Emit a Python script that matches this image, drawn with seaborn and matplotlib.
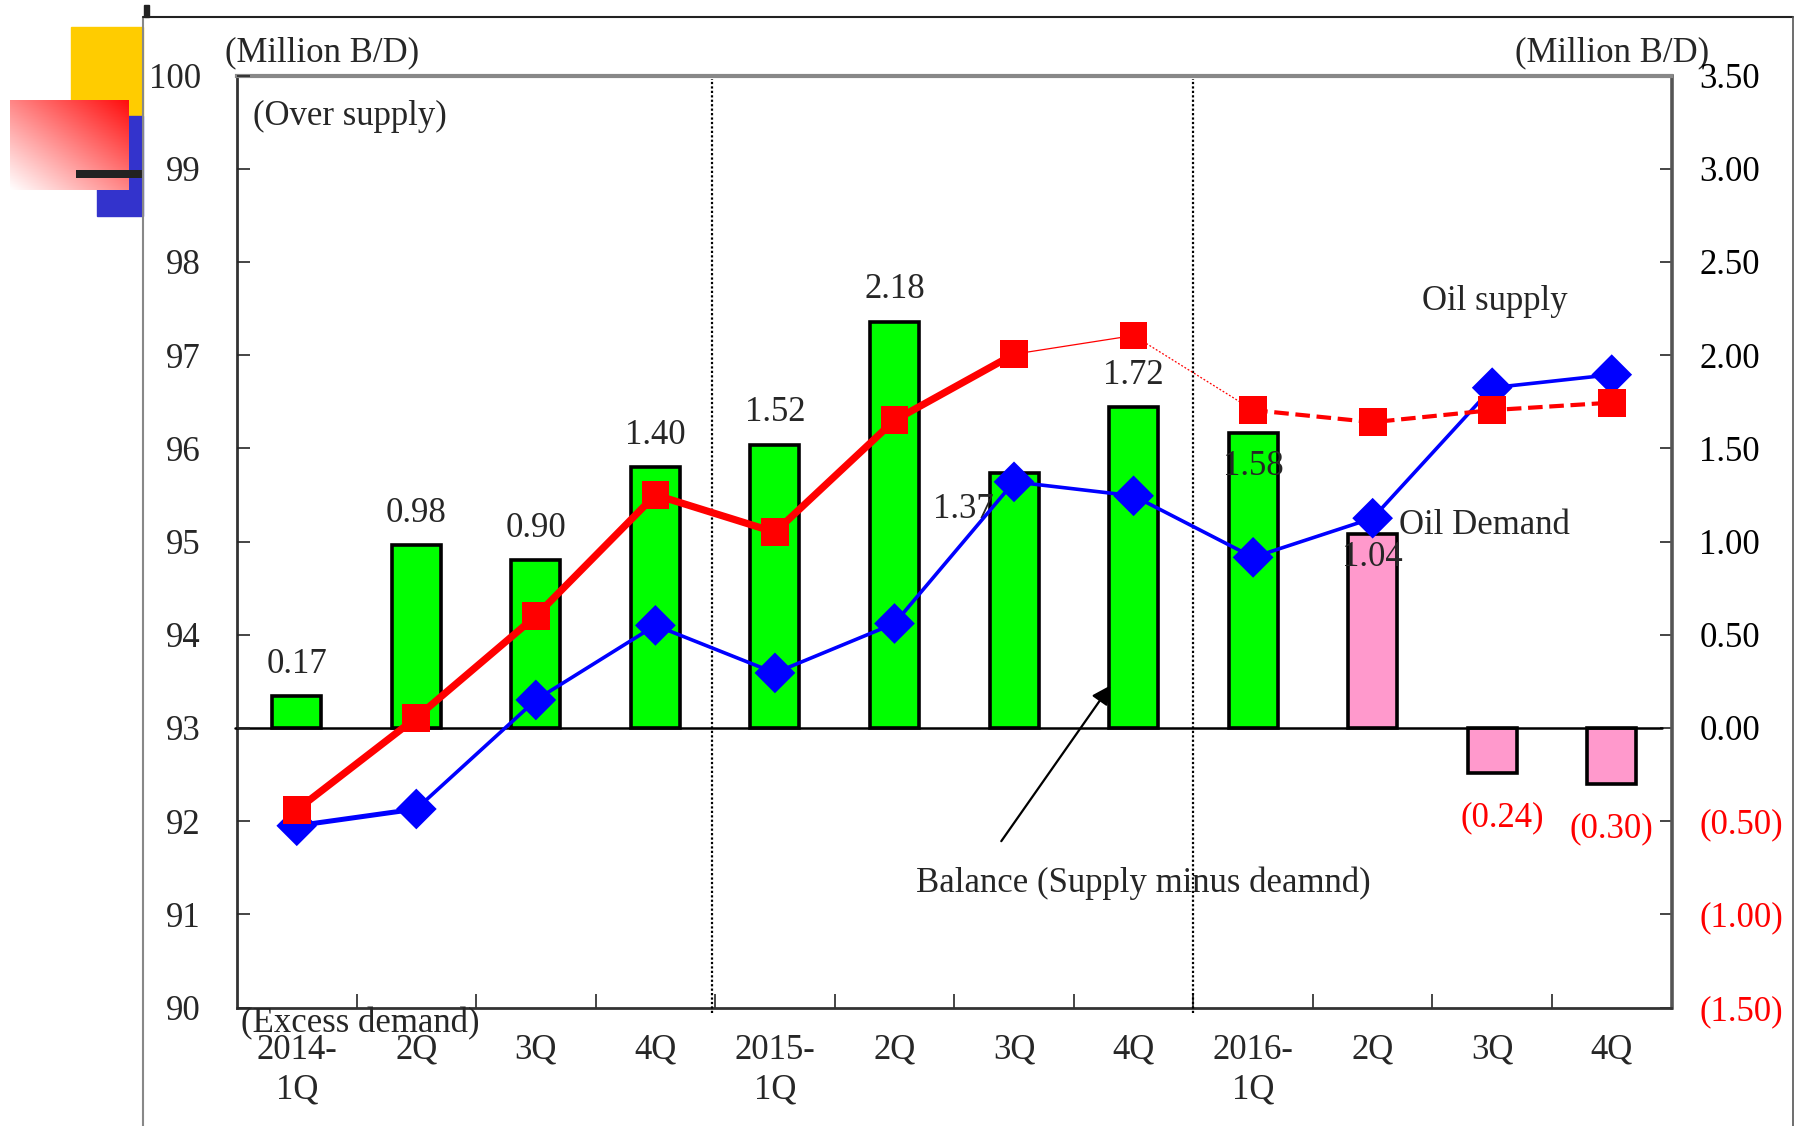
import numpy as np
import pandas as pd
import matplotlib
matplotlib.use("Agg")
import matplotlib.pyplot as plt
import seaborn as sns
from matplotlib.patches import Rectangle
from matplotlib.lines import Line2D
from matplotlib.ticker import FixedLocator

# ---------------- data ----------------
quarters = ["2014-\n1Q", "2Q", "3Q", "4Q", "2015-\n1Q", "2Q", "3Q", "4Q",
            "2016-\n1Q", "2Q", "3Q", "4Q"]
balance = [0.17, 0.98, 0.90, 1.40, 1.52, 2.18, 1.37, 1.72, 1.58, 1.04, -0.24, -0.30]
balance_labels = ["0.17", "0.98", "0.90", "1.40", "1.52", "2.18", "1.37", "1.72",
                  "1.58", "1.04", "(0.24)", "(0.30)"]
oil_supply = [92.12, 93.11, 94.20, 95.50, 95.10, 96.30, 97.01, 97.21, 96.41, 96.28, 96.41, 96.49]
oil_demand = [91.95, 92.13, 93.30, 94.10, 93.59, 94.12, 95.64, 95.49, 94.83, 95.25, 96.65, 96.79]
bar_colors = ["#00FF00"] * 9 + ["#FF99CC"] * 3
left_ticks = [90, 91, 92, 93, 94, 95, 96, 97, 98, 99, 100]
right_ticks = [-1.5, -1.0, -0.5, 0.0, 0.5, 1.0, 1.5, 2.0, 2.5, 3.0, 3.5]
right_tick_labels = ["(1.50)", "(1.00)", "(0.50)", "0.00", "0.50", "1.00", "1.50",
                     "2.00", "2.50", "3.00", "3.50"]

W, H = 1795, 1126
sns.set_style("white")
plt.rcParams["font.family"] = ["Liberation Serif", "DejaVu Serif"]
FS = 25

fig = plt.figure(figsize=(W / 100, H / 100), dpi=100)
fig.patch.set_facecolor("white")


def fx(px):
    return px / W


def fy(py):
    return 1 - py / H


# ---------------- slide decorations ----------------
fig.add_artist(Rectangle((fx(71), fy(116)), fx(143) - fx(71), fy(27) - fy(116),
                         transform=fig.transFigure, color="#FFCC00", zorder=0))
fig.add_artist(Rectangle((fx(97), fy(216)), fx(143) - fx(97), fy(116) - fy(216),
                         transform=fig.transFigure, color="#3333CC", zorder=0))
gax = fig.add_axes([fx(10), fy(190), fx(129) - fx(10), fy(100) - fy(190)], zorder=1)
u = np.linspace(0, 1, 120)[None, :]
v = np.linspace(0, 1, 90)[:, None]
t = np.clip((u + (1 - v)) / 2, 0, 1)
img = np.ones((90, 120, 3))
img[..., 1] = 1 - t * 0.95
img[..., 2] = 1 - t * 0.95
gax.imshow(img, aspect="auto", interpolation="bilinear")
gax.axis("off")
bar_ax = fig.add_axes([fx(76), fy(178), fx(143) - fx(76), fy(170) - fy(178)], zorder=2)
bar_ax.set_facecolor("#222222")
bar_ax.set_xticks([]); bar_ax.set_yticks([])
for s in bar_ax.spines.values():
    s.set_visible(False)
fig.add_artist(Line2D([fx(143), fx(143)], [fy(17), 0], transform=fig.transFigure,
                      color="#888888", lw=1.5, zorder=3))
fig.add_artist(Line2D([fx(143), fx(1793)], [fy(17), fy(17)], transform=fig.transFigure,
                      color="#222222", lw=1.5, zorder=3))
fig.add_artist(Line2D([fx(1793), fx(1793)], [fy(17), 0], transform=fig.transFigure,
                      color="#555555", lw=1.2, zorder=3))
fig.add_artist(Rectangle((fx(144), fy(17)), fx(5), fy(5) - fy(17),
                         transform=fig.transFigure, color="#222222", zorder=3))

# ---------------- chart ----------------
ax1 = fig.add_axes([fx(237), fy(1007.5), fx(1671.5) - fx(237), fy(75.5) - fy(1007.5)], zorder=5)
ax1.set_facecolor("white")

df_bal = pd.DataFrame({"idx": list(range(12)), "balance": balance})
sns.barplot(data=df_bal, x="idx", y="balance", hue="idx", palette=bar_colors,
            legend=False, width=0.41, saturation=1, edgecolor="black",
            linewidth=2.6, ax=ax1, zorder=2)
ax1.set_xlim(-0.5, 11.5)
ax1.set_ylim(-1.5, 3.5)
ax1.plot([-0.52, 11.42], [0, 0], color="black", lw=1.8, zorder=3, clip_on=False)

ax2 = ax1.twinx()
ax2.set_zorder(6)
ax2.patch.set_visible(False)
ax1.yaxis.tick_right()
ax2.yaxis.tick_left()

idx = np.arange(12)
df_sup = pd.DataFrame({"idx": idx, "supply": oil_supply})
df_dem = pd.DataFrame({"idx": idx, "demand": oil_demand})

# demand line and markers
sns.lineplot(data=df_dem.iloc[0:2], x="idx", y="demand", color="#0000FF", lw=3.6, ax=ax2)
sns.lineplot(data=df_dem.iloc[1:], x="idx", y="demand", color="#0000FF", lw=2.6, ax=ax2)
sns.scatterplot(data=df_dem, x="idx", y="demand", color="#0000FF", marker="D", s=430,
                edgecolor="none", ax=ax2, zorder=4)
# supply line segments and markers
sns.lineplot(data=df_sup.iloc[0:7], x="idx", y="supply", color="#FF0000", lw=5.2, ax=ax2)
sns.lineplot(data=df_sup.iloc[6:8], x="idx", y="supply", color="#FF0000", lw=0.9, ax=ax2)
sns.lineplot(data=df_sup.iloc[7:9], x="idx", y="supply", color="#FF0000", lw=0.9, ax=ax2)
ax2.lines[-1].set_linestyle((0, (1.5, 1.5)))
sns.lineplot(data=df_sup.iloc[8:12], x="idx", y="supply", color="#FF0000", lw=3.0, ax=ax2)
ax2.lines[-1].set_linestyle((0, (3.5, 1.6)))
sns.scatterplot(data=df_sup, x="idx", y="supply", color="#FF0000", marker="s", s=400,
                edgecolor="none", ax=ax2, zorder=6)
ax2.set_ylim(90, 100)
ax2.set_xlim(-0.5, 11.5)

# separators
for xv in [3.47, 7.5]:
    ax1.plot([xv, xv], [-1.53, 3.48], color="black", lw=1.6, ls=(0, (1, 1.0)),
             clip_on=False, zorder=4)

# axes styling
for a in (ax1, ax2):
    a.set_xlabel("")
    a.set_ylabel("")
for name, sp in ax1.spines.items():
    sp.set_linewidth(2.0)
    sp.set_color("#333333")
ax1.spines["top"].set_color("#888888")
ax1.spines["top"].set_linewidth(3.0)
ax1.spines["right"].set_color("#555555")
ax1.spines["right"].set_linewidth(2.6)
for sp in ax2.spines.values():
    sp.set_visible(False)

ax1.set_yticks(right_ticks)
ax1.set_yticklabels(right_tick_labels)
for lab, val in zip(ax1.get_yticklabels(), right_ticks):
    lab.set_color("#FF0000" if val < 0 else "black")
ax1.tick_params(axis="y", direction="in", length=9, width=1.2, pad=20,
                labelsize=FS, right=True, left=False)
ax2.set_yticks(left_ticks)
ax2.set_yticklabels([str(v) for v in left_ticks])
ax2.tick_params(axis="y", direction="in", length=9, width=1.2, pad=26,
                labelsize=FS, left=True, right=False)

ax1.set_xticks(range(12))
ax1.set_xticklabels(quarters, fontsize=FS, linespacing=1.25)
ax1.xaxis.set_minor_locator(FixedLocator([i + 0.5 for i in range(11)]))
ax1.tick_params(axis="x", which="major", length=0, pad=19)
ax1.tick_params(axis="x", which="minor", direction="in", length=10, width=1.2, bottom=True)

# value labels
for i, (v, lab) in enumerate(zip(balance, balance_labels)):
    if v < 0:
        dx = 0.08 if i == 10 else 0.0
        ax1.text(i + dx, v - 0.24, lab, ha="center", va="center", fontsize=FS,
                 color="#FF0000", zorder=7)
    elif i == 6:
        ax1.text(i - 0.42, 1.17, lab, ha="center", va="center", fontsize=FS, zorder=7)
    elif i == 8:
        ax1.text(i, 1.40, lab, ha="center", va="center", fontsize=FS, zorder=7)
    elif i == 9:
        ax1.text(i, 0.915, lab, ha="center", va="center", fontsize=FS, zorder=7)
    else:
        ax1.text(i, v + 0.17, lab, ha="center", va="center", fontsize=FS, zorder=7)

ax1.text(10.02, 2.285, "Oil supply", ha="center", va="center", fontsize=FS)
ax1.text(9.22, 1.085, "Oil Demand", ha="left", va="center", fontsize=FS)
ax1.text(7.08, -0.835, "Balance (Supply minus deamnd)", ha="center", va="center", fontsize=FS)
ax1.annotate("", xy=(6.82, 0.24), xytext=(5.88, -0.62),
             arrowprops=dict(arrowstyle="-|>", color="black", lw=1.6, mutation_scale=28))
ax1.text(-0.37, 3.28, "(Over supply)", ha="left", va="center", fontsize=FS)
ax1.text(-0.47, -1.585, "(Excess demand)", ha="left", va="center", fontsize=FS,
         clip_on=False)

fig.text(fx(225), fy(53), "(Million B/D)", ha="left", va="center", fontsize=FS)
fig.text(fx(1515), fy(53), "(Million B/D)", ha="left", va="center", fontsize=FS)

fig.savefig("out.png", dpi=100, facecolor="white")
